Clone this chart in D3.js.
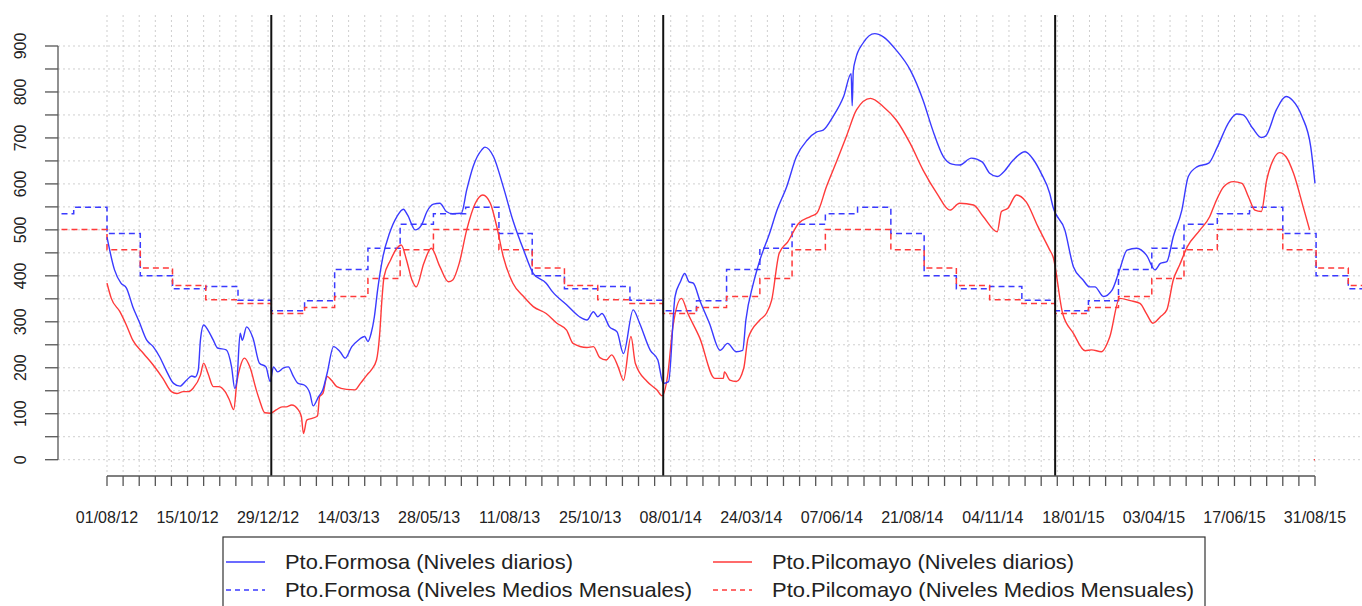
<!DOCTYPE html>
<html><head><meta charset="utf-8">
<script src="https://cdn.jsdelivr.net/npm/d3@7"></script>
<style>body{margin:0;background:#fff}svg{display:block;font-family:"Liberation Sans",Arial,sans-serif}</style>
</head><body><svg id="c" width="1362" height="606"></svg>
<script>
// ---- data ----
const formosaDaily = [
["2012-08-01",484],["2012-08-08",413],["2012-08-14",384],["2012-08-19",374],["2012-08-25",333],["2012-08-31",300],
["2012-09-07",260],["2012-09-13",246],["2012-09-19",224],["2012-09-25",195],["2012-10-02",166],["2012-10-08",160],
["2012-10-14",173],["2012-10-19",182],["2012-10-22",180],["2012-10-25",195],["2012-10-27",260],["2012-10-30",293],
["2012-11-03",282],["2012-11-08",260],["2012-11-12",243],["2012-11-20",239],["2012-11-25",202],["2012-11-28",155],
["2012-11-30",173],["2012-12-03",275],["2012-12-05",260],["2012-12-09",289],["2012-12-15",264],["2012-12-21",210],
["2012-12-27",202],["2012-12-31",170],["2013-01-03",202],["2013-01-07",191],["2013-01-12",199],["2013-01-17",202],
["2013-01-21",184],["2013-01-26",166],["2013-02-01",162],["2013-02-06",144],["2013-02-09",117],["2013-02-14",137],
["2013-02-18",152],["2013-02-22",188],["2013-02-28",246],["2013-03-06",235],["2013-03-11",221],["2013-03-17",246],
["2013-03-23",260],["2013-03-29",268],["2013-04-01",257],["2013-04-04",275],["2013-04-07",311],["2013-04-10",369],
["2013-04-15",442],["2013-04-21",492],["2013-04-28",529],["2013-05-04",545],["2013-05-08",532],["2013-05-15",500],
["2013-05-21",511],["2013-05-26",540],["2013-06-01",556],["2013-06-07",558],["2013-06-13",540],["2013-06-19",535],
["2013-06-27",536],["2013-07-02",587],["2013-07-08",638],["2013-07-16",674],["2013-07-19",680],["2013-07-27",659],
["2013-08-05",594],["2013-08-14",521],["2013-08-24",456],["2013-09-02",405],["2013-09-14",384],["2013-09-20",365],
["2013-10-03",337],["2013-10-15",311],["2013-10-22",304],["2013-10-28",322],["2013-11-01",311],["2013-11-05",318],
["2013-11-12",289],["2013-11-19",278],["2013-11-25",231],["2013-12-04",326],["2013-12-10",297],["2013-12-20",238],
["2013-12-27",217],["2014-01-01",166],["2014-01-06",170],["2014-01-12",355],["2014-01-17",387],["2014-01-21",405],
["2014-01-25",387],["2014-01-29",384],["2014-02-04",347],["2014-02-13",297],["2014-02-23",238],["2014-03-02",253],
["2014-03-10",235],["2014-03-16",238],["2014-03-19",304],["2014-03-26",384],["2014-04-01",434],["2014-04-10",492],
["2014-04-17",543],["2014-04-26",594],["2014-05-05",659],["2014-05-15",695],["2014-05-24",713],["2014-05-30",717],
["2014-06-08",746],["2014-06-18",790],["2014-06-25",840],["2014-06-26",770],["2014-06-27",845],["2014-06-29",870],
["2014-07-06",906],["2014-07-17",927],["2014-07-25",920],["2014-08-06",891],["2014-08-19",848],["2014-08-31",782],
["2014-09-09",717],["2014-09-19",659],["2014-09-27",643],["2014-10-04",641],["2014-10-15",656],["2014-10-25",648],
["2014-11-01",623],["2014-11-08",616],["2014-11-14",626],["2014-11-23",652],["2014-12-04",670],["2014-12-12",652],
["2014-12-19",623],["2014-12-27",579],["2014-12-30",550],["2015-01-10",500],["2015-01-18",420],["2015-01-27",391],
["2015-02-02",376],["2015-02-07",376],["2015-02-15",355],["2015-02-23",369],["2015-03-02",413],["2015-03-09",456],
["2015-03-18",460],["2015-03-27",445],["2015-04-04",413],["2015-04-09",427],["2015-04-15",431],["2015-04-21",485],
["2015-04-29",543],["2015-05-05",616],["2015-05-13",637],["2015-05-24",645],["2015-06-01",680],["2015-06-12",735],
["2015-06-19",752],["2015-06-25",750],["2015-07-04",721],["2015-07-12",701],["2015-07-16",704],["2015-07-26",761],
["2015-08-04",790],["2015-08-10",782],["2015-08-19",746],["2015-08-27",681],["2015-08-31",601]
];
const pilcomayoDaily = [
["2012-08-01",384],["2012-08-05",351],["2012-08-13",322],["2012-08-19",293],["2012-08-25",260],["2012-09-04",231],
["2012-09-13",206],["2012-09-22",177],["2012-09-30",148],["2012-10-05",144],["2012-10-11",148],["2012-10-16",148],
["2012-10-20",155],["2012-10-27",184],["2012-10-30",210],["2012-11-03",188],["2012-11-08",159],["2012-11-13",159],
["2012-11-19",148],["2012-11-23",130],["2012-11-27",109],["2012-11-30",170],["2012-12-03",202],["2012-12-07",221],
["2012-12-12",202],["2012-12-18",152],["2012-12-21",130],["2012-12-26",102],["2012-12-31",101],["2013-01-06",109],
["2013-01-11",115],["2013-01-15",115],["2013-01-20",119],["2013-01-26",109],["2013-01-29",94],["2013-01-31",57],
["2013-02-03",86],["2013-02-08",90],["2013-02-13",95],["2013-02-15",137],["2013-02-18",144],["2013-02-22",181],
["2013-02-26",173],["2013-03-03",159],["2013-03-12",153],["2013-03-20",152],["2013-03-25",166],["2013-03-31",184],
["2013-04-04",195],["2013-04-09",217],["2013-04-12",275],["2013-04-14",347],["2013-04-16",398],["2013-04-22",434],
["2013-04-28",460],["2013-05-02",467],["2013-05-07",434],["2013-05-12",391],["2013-05-16",376],["2013-05-23",427],
["2013-05-30",460],["2013-06-07",420],["2013-06-15",387],["2013-06-19",391],["2013-06-25",427],["2013-07-02",500],
["2013-07-10",558],["2013-07-17",576],["2013-07-24",558],["2013-07-30",507],["2013-08-05",442],["2013-08-14",384],
["2013-08-24",355],["2013-09-02",333],["2013-09-14",318],["2013-09-24",297],["2013-10-03",282],["2013-10-09",253],
["2013-10-22",244],["2013-10-28",246],["2013-11-03",222],["2013-11-09",217],["2013-11-14",228],["2013-11-20",202],
["2013-11-25",173],["2013-12-02",268],["2013-12-06",210],["2013-12-17",170],["2013-12-26",152],["2013-12-31",139],
["2014-01-05",181],["2014-01-10",289],["2014-01-18",351],["2014-01-24",318],["2014-02-04",265],["2014-02-18",177],
["2014-02-26",177],["2014-02-27",191],["2014-03-04",173],["2014-03-10",170],["2014-03-17",199],["2014-03-21",264],
["2014-04-01",304],["2014-04-07",318],["2014-04-12",347],["2014-04-19",449],["2014-04-27",474],["2014-05-07",514],
["2014-05-18",529],["2014-05-24",536],["2014-06-02",594],["2014-06-12",652],["2014-06-21",706],["2014-06-30",761],
["2014-07-13",786],["2014-07-25",768],["2014-08-06",739],["2014-08-19",688],["2014-08-31",630],["2014-09-13",579],
["2014-09-25",543],["2014-10-04",558],["2014-10-17",554],["2014-10-26",529],["2014-11-08",496],["2014-11-12",540],
["2014-11-18",547],["2014-11-26",576],["2014-12-05",561],["2014-12-16",507],["2014-12-27",456],["2014-12-30",442],
["2015-01-08",318],["2015-01-18",275],["2015-01-29",237],["2015-02-04",239],["2015-02-13",235],["2015-02-21",268],
["2015-03-02",351],["2015-03-12",346],["2015-03-21",340],["2015-03-27",318],["2015-04-02",297],["2015-04-09",311],
["2015-04-15",326],["2015-04-21",391],["2015-04-27",424],["2015-05-04",463],["2015-05-16",500],["2015-05-25",529],
["2015-05-30",558],["2015-06-07",594],["2015-06-16",605],["2015-06-24",601],["2015-06-30",572],["2015-07-06",543],
["2015-07-12",540],["2015-07-17",608],["2015-07-23",652],["2015-07-29",668],["2015-08-04",659],["2015-08-11",623],
["2015-08-20",550],["2015-08-26",500],["2015-08-28",null],["2015-08-30",0],["2015-08-31",0]
];
// monthly mean levels, January..December
const formosaMonthlyMean   = [324,346,414,460,512,535,549,492,400,372,377,347];
const pilcomayoMonthlyMean = [318,331,355,394,457,501,501,457,417,379,348,340];
const tickLabels = ["01/08/12","15/10/12","29/12/12","14/03/13","28/05/13","11/08/13","25/10/13","08/01/14",
                    "24/03/14","07/06/14","21/08/14","04/11/14","18/01/15","03/04/15","17/06/15","31/08/15"];
const yTickLabels = [0,100,200,300,400,500,600,700,800,900];
const yearMarks = ["2013-01-01","2014-01-01","2015-01-01"];
const legendNames = ["Pto.Formosa (Niveles diarios)","Pto.Formosa (Niveles Medios Mensuales)",
                     "Pto.Pilcomayo (Niveles diarios)","Pto.Pilcomayo (Niveles Medios Mensuales)"];

// ---- drawing ----
const svg = d3.select("#c");
const parse = d3.utcParse("%Y-%m-%d");
const parseLab = d3.utcParse("%d/%m/%y");
const BLUE = "#3a3aff", RED = "#ff3a3a";
const plotL = 58, plotR = 1362, plotT = 15, axisY = 476;
const x = d3.scaleUtc().domain([parse("2012-08-01"), parse("2015-08-31")]).range([107, 1315]);
const y = d3.scaleLinear().domain([0, 900]).range([459.7, 46]);

svg.append("defs").append("clipPath").attr("id","clip")
  .append("rect").attr("x",plotL).attr("y",0).attr("width",plotR-plotL).attr("height",axisY);

// tick dates every 15 days
const tickDates = d3.range(0, 76).map(i => d3.utcDay.offset(parse("2012-08-01"), i*15));

// grid
const g = svg.append("g");
g.selectAll(".hg").data(d3.range(0, 901, 50)).join("line")
  .attr("x1", plotL).attr("x2", plotR).attr("y1", d=>y(d)).attr("y2", d=>y(d))
  .attr("stroke","#cfcfcf").attr("stroke-width",1).attr("stroke-dasharray","2,3");
g.selectAll(".vg").data(tickDates).join("line")
  .attr("x1", d=>x(d)).attr("x2", d=>x(d)).attr("y1", plotT).attr("y2", axisY-3)
  .attr("stroke","#cfcfcf").attr("stroke-width",1).attr("stroke-dasharray","2,3");

// monthly mean step lines
const months = d3.utcMonths(parse("2012-06-01"), parse("2015-12-02"));
const stepLine = d3.line().curve(d3.curveStepAfter).x(d=>x(d[0])).y(d=>y(d[1]));
const plot = svg.append("g").attr("clip-path","url(#clip)");
plot.append("path").datum(months.map(m=>[m, formosaMonthlyMean[m.getUTCMonth()]]))
  .attr("d", stepLine).attr("fill","none").attr("stroke",BLUE).attr("stroke-width",1.5).attr("stroke-dasharray","6,4");
plot.append("path").datum(months.map(m=>[m, pilcomayoMonthlyMean[m.getUTCMonth()]]))
  .attr("d", stepLine).attr("fill","none").attr("stroke",RED).attr("stroke-width",1.5).attr("stroke-dasharray","6,4");

// daily lines
const dayLine = d3.line().curve(d3.curveMonotoneX).defined(d=>d[1]!=null).x(d=>x(parse(d[0]))).y(d=>y(d[1]));
plot.append("path").datum(pilcomayoDaily).attr("d", dayLine).attr("fill","none")
  .attr("stroke",RED).attr("stroke-width",1.4).attr("stroke-linejoin","round");
plot.append("path").datum(formosaDaily).attr("d", dayLine).attr("fill","none")
  .attr("stroke",BLUE).attr("stroke-width",1.4).attr("stroke-linejoin","round");

// year separators
svg.selectAll(".yr").data(yearMarks).join("line")
  .attr("x1", d=>x(parse(d))).attr("x2", d=>x(parse(d))).attr("y1", plotT).attr("y2", axisY)
  .attr("stroke","#111").attr("stroke-width",2);

// x axis
const ax = svg.append("g").attr("stroke","#555").attr("stroke-width",1.3);
ax.append("line").attr("x1", x(tickDates[0])).attr("x2", x(tickDates[tickDates.length-1]))
  .attr("y1", axisY).attr("y2", axisY);
ax.selectAll(".xt").data(tickDates).join("line")
  .attr("x1", d=>x(d)).attr("x2", d=>x(d)).attr("y1", axisY).attr("y2", axisY+10);
svg.selectAll(".xl").data(tickLabels).join("text")
  .attr("x", d=>x(parseLab(d))).attr("y", 523).attr("text-anchor","middle")
  .attr("font-size",16).attr("fill","#222").text(d=>d);

// y axis
ax.append("line").attr("x1", plotL).attr("x2", plotL).attr("y1", y(0)).attr("y2", y(900));
ax.selectAll(".yt").data(d3.range(0, 901, 50)).join("line")
  .attr("x1", plotL-13).attr("x2", plotL).attr("y1", d=>y(d)).attr("y2", d=>y(d));
svg.selectAll(".yl").data(yTickLabels).join("text")
  .attr("transform", d=>`translate(26,${y(d)}) rotate(-90)`)
  .attr("text-anchor","middle").attr("font-size",16).attr("fill","#222").text(d=>d);

// legend
const lg = svg.append("g");
lg.append("rect").attr("x",223).attr("y",537).attr("width",982).attr("height",90)
  .attr("fill","#fff").attr("stroke","#333").attr("stroke-width",1.2);
const items = [
  {name:legendNames[0], color:BLUE, dash:null, lx:226, ty:0, w:288},
  {name:legendNames[1], color:BLUE, dash:"5,4", lx:226, ty:1, w:407},
  {name:legendNames[2], color:RED, dash:null, lx:713, ty:0, w:302},
  {name:legendNames[3], color:RED, dash:"5,4", lx:713, ty:1, w:422}
];
items.forEach(it => {
  const yy = 562 + it.ty*28;
  lg.append("line").attr("x1", it.lx).attr("x2", it.lx+39).attr("y1", yy).attr("y2", yy)
    .attr("stroke", it.color).attr("stroke-width",1.5).attr("stroke-dasharray", it.dash);
  lg.append("text").attr("x", it.lx+59).attr("y", yy+7).attr("font-size",21).attr("fill","#222")
    .attr("textLength", it.w).attr("lengthAdjust","spacingAndGlyphs").text(it.name);
});
</script></body></html>
